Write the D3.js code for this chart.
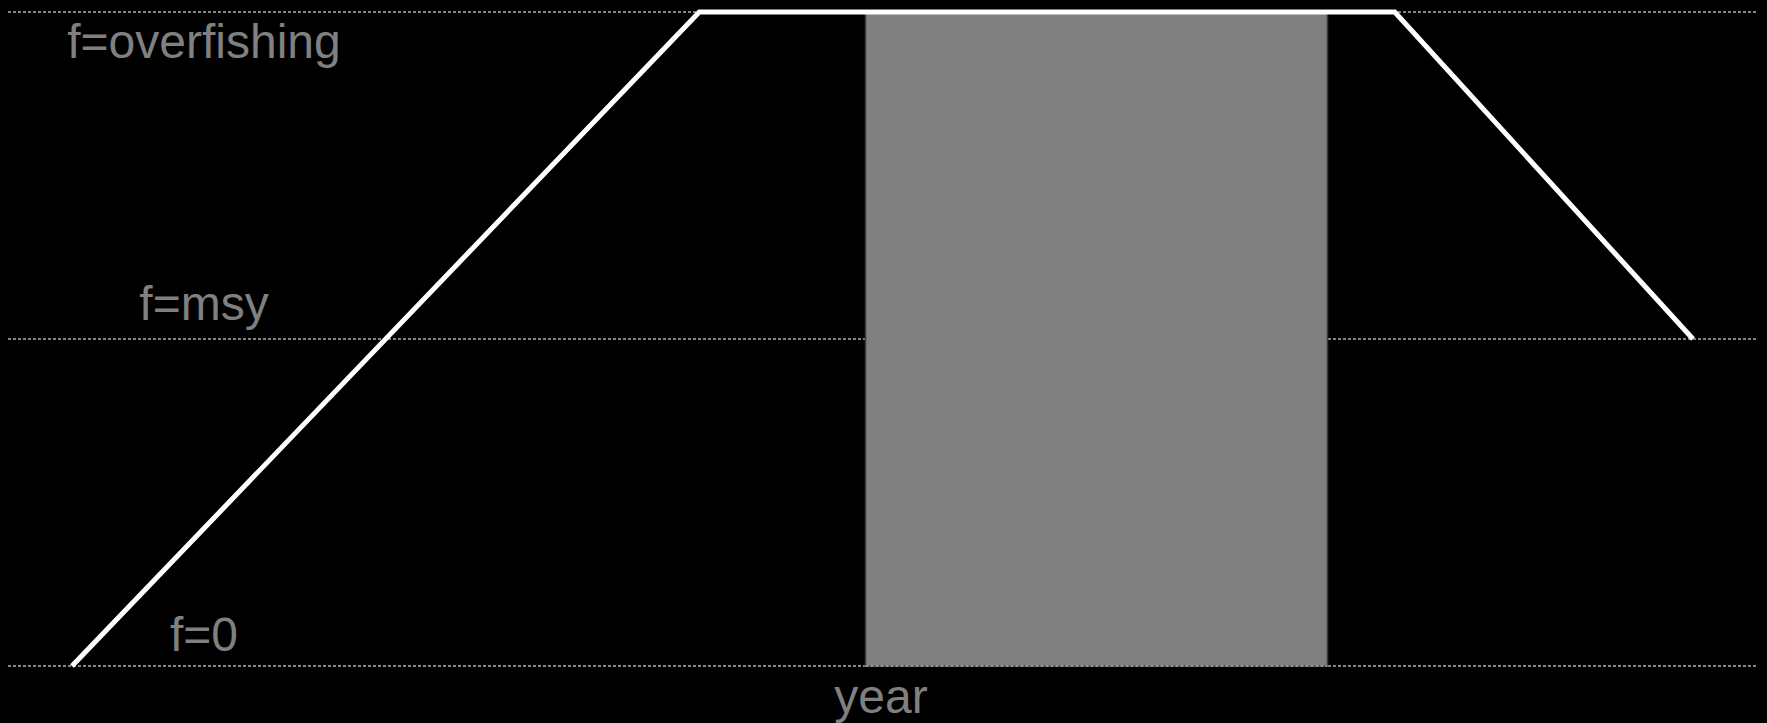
<!DOCTYPE html>
<html><head><meta charset="utf-8">
<script src="https://cdn.jsdelivr.net/npm/d3@7"></script>
<style>html,body{margin:0;padding:0;background:#000;}svg{display:block;}</style>
</head><body>
<svg id="c" width="1767" height="723"></svg>
<script>
// Data
const refLevels = [0, 1, 2];                       // f=0, f=msy, f=overfishing
const refLabels = ["f=0", "f=msy", "f=overfishing"];
const pathYears = [0, 38.7, 81.6, 100];
const pathF = [0, 2, 2, 1];
const periodStart = [48.95];
const periodEnd = [77.45];
const xLabel = "year";

const W = 1767, H = 723;
const svg = d3.select("#c");
svg.append("rect").attr("width", W).attr("height", H).attr("fill", "#000");

const x = d3.scaleLinear().domain([0, 100]).range([72, 1693]);
const y = d3.scaleLinear().domain([0, 2]).range([666, 12]);
const xMin = x.invert(8), xMax = x.invert(1758);

// reference lines
svg.selectAll("line.ref").data(refLevels).enter().append("line")
  .attr("x1", x(xMin)).attr("x2", x(xMax))
  .attr("y1", d => y(d)).attr("y2", d => y(d))
  .attr("stroke", "#b0b0b0").attr("stroke-width", 1.3)
  .attr("stroke-dasharray", "3,2");

// shaded period
svg.selectAll("rect.period").data(periodStart).enter().append("rect")
  .attr("x", (d, i) => x(d)).attr("width", (d, i) => x(periodEnd[i]) - x(d))
  .attr("y", y(2)).attr("height", y(0) - y(2))
  .attr("fill", "#808080").attr("stroke", "#3a3a3a").attr("stroke-width", 1.5);

// redraw bottom ref line on top of rect
svg.append("line")
  .attr("x1", x(periodStart[0])).attr("x2", x(periodEnd[0]))
  .attr("y1", y(0)).attr("y2", y(0))
  .attr("stroke", "#b0b0b0").attr("stroke-width", 1.3)
  .attr("stroke-dasharray", "3,2");

// f path
const pts = pathYears.map((d, i) => [d, pathF[i]]);
svg.append("path").datum(pts)
  .attr("d", d3.line().x(d => x(d[0])).y(d => y(d[1])))
  .attr("fill", "none").attr("stroke", "#fff").attr("stroke-width", 5)
  .attr("stroke-linejoin", "miter");

// labels
const labelPos = [{dy: -15}, {dy: -19}, {dy: 46}];
svg.selectAll("text.lab").data(refLevels).enter().append("text")
  .attr("x", 204).attr("y", (d, i) => y(d) + labelPos[i].dy)
  .attr("text-anchor", "middle")
  .attr("font-family", "Liberation Sans, Arial, sans-serif")
  .attr("font-size", 48).attr("fill", "#808080")
  .text((d, i) => refLabels[i]);

svg.append("text").attr("x", 881).attr("y", 713)
  .attr("text-anchor", "middle")
  .attr("font-family", "Liberation Sans, Arial, sans-serif")
  .attr("font-size", 48).attr("fill", "#808080")
  .text(xLabel);
</script>
</body></html>
